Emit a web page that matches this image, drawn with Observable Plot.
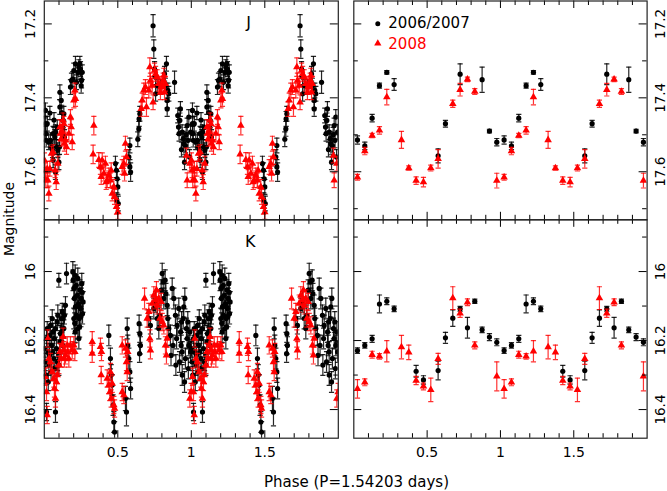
<!DOCTYPE html>
<html><head><meta charset="utf-8">
<script src="https://cdn.jsdelivr.net/npm/d3@7"></script>
<script src="https://cdn.jsdelivr.net/npm/@observablehq/plot@0.6"></script>
<style>
body{margin:0;background:#fff;}
#chart{position:relative;width:667px;height:491px;font-family:"DejaVu Sans",sans-serif;color:#000;}
#chart svg{position:absolute;left:0;top:0;}
.lbl{position:absolute;white-space:nowrap;line-height:1;}
</style></head><body><div id="chart"></div>
<script>
// ---------- data: unbinned light curves, [phase, magnitude, error], phase in [0,1) ----------
const jBlack = [
[0.008,17.434,0.02],[0.008,17.470,0.02],[0.010,17.497,0.02],[0.013,17.515,0.018],[0.020,17.470,0.02],[0.030,17.520,0.02],[0.038,17.441,0.018],[0.042,17.515,0.02],[0.049,17.533,0.02],[0.056,17.542,0.02],[0.060,17.497,0.02],[0.060,17.569,0.02],[0.066,17.460,0.02],[0.072,17.506,0.02],[0.076,17.493,0.02],[0.076,17.601,0.02],[0.083,17.533,0.02],[0.088,17.480,0.02],[0.092,17.542,0.02],[0.099,17.574,0.02],[0.103,17.533,0.02],[0.106,17.425,0.02],[0.106,17.385,0.02],[0.115,17.407,0.02],[0.118,17.440,0.02],[0.126,17.479,0.02],[0.128,17.461,0.02],[0.133,17.443,0.02],[0.137,17.506,0.02],
[0.178,17.371,0.02],[0.185,17.353,0.02],[0.194,17.349,0.02],[0.201,17.326,0.02],[0.212,17.308,0.02],[0.219,17.358,0.02],[0.228,17.331,0.02],[0.235,17.317,0.02],[0.242,17.308,0.02],[0.246,17.322,0.02],[0.251,17.367,0.02],[0.253,17.353,0.02],[0.258,17.331,0.02],
[0.484,17.578,0.02],[0.491,17.596,0.02],[0.496,17.619,0.02],[0.500,17.641,0.02],[0.493,17.677,0.02],[0.503,17.686,0.02],[0.575,17.560,0.02],[0.582,17.529,0.02],[0.582,17.587,0.02],[0.587,17.601,0.025],
[0.636,17.512,0.02],[0.643,17.484,0.02],[0.645,17.457,0.02],[0.650,17.443,0.02],[0.740,17.205,0.03],[0.745,17.268,0.025],[0.750,17.322,0.02],[0.757,17.344,0.02],[0.757,17.389,0.02],[0.768,17.367,0.02],[0.790,17.371,0.02],[0.818,17.335,0.02],[0.824,17.367,0.02],[0.831,17.308,0.02],[0.836,17.407,0.02],[0.836,17.430,0.02],[0.840,17.380,0.02],[0.847,17.389,0.02],[0.886,17.358,0.03],
[0.908,17.448,0.02],[0.913,17.479,0.02],[0.917,17.497,0.02],[0.922,17.461,0.02],[0.926,17.430,0.02],[0.933,17.540,0.02],[0.938,17.493,0.02],[0.945,17.511,0.02],[0.949,17.524,0.02],[0.954,17.574,0.02],[0.960,17.529,0.02],[0.965,17.500,0.02],[0.972,17.475,0.02],[0.978,17.515,0.02],[0.983,17.452,0.02],[0.988,17.560,0.02],[0.995,17.493,0.02]
];
const jRed = [
[0.001,17.569,0.02],[0.006,17.596,0.02],[0.010,17.623,0.02],[0.020,17.592,0.02],[0.024,17.623,0.02],[0.031,17.659,0.02],[0.038,17.592,0.02],[0.049,17.551,0.02],[0.060,17.547,0.02],[0.074,17.596,0.02],[0.081,17.628,0.02],[0.092,17.578,0.02],[0.106,17.479,0.02],[0.110,17.497,0.02],[0.115,17.511,0.02],[0.122,17.493,0.02],[0.128,17.461,0.02],[0.133,17.470,0.02],[0.137,17.524,0.02],[0.144,17.515,0.02],[0.151,17.533,0.02],[0.167,17.497,0.02],[0.178,17.452,0.02],[0.183,17.479,0.02],[0.190,17.520,0.02],[0.201,17.407,0.02],[0.208,17.380,0.02],[0.212,17.403,0.02],
[0.337,17.475,0.025],[0.332,17.553,0.025],[0.371,17.568,0.02],[0.382,17.587,0.02],[0.387,17.614,0.02],[0.394,17.569,0.02],[0.405,17.605,0.02],[0.416,17.578,0.02],[0.421,17.628,0.02],[0.428,17.623,0.02],[0.439,17.610,0.02],[0.450,17.623,0.02],[0.455,17.596,0.02],[0.462,17.659,0.02],[0.473,17.641,0.02],[0.478,17.668,0.02],[0.491,17.695,0.02],[0.500,17.709,0.02],[0.530,17.587,0.02],[0.541,17.578,0.02],[0.546,17.605,0.02],[0.552,17.524,0.02],[0.559,17.560,0.02],
[0.659,17.430,0.02],[0.666,17.407,0.02],[0.677,17.380,0.02],[0.688,17.371,0.02],[0.695,17.425,0.025],[0.711,17.380,0.02],[0.718,17.317,0.025],[0.722,17.353,0.02],[0.734,17.367,0.02],[0.740,17.412,0.02],[0.750,17.326,0.02],[0.757,17.335,0.02],[0.768,17.344,0.02],[0.779,17.362,0.02],[0.790,17.385,0.02],[0.795,17.371,0.02],[0.802,17.367,0.02],[0.809,17.353,0.02],[0.813,17.340,0.02],[0.818,17.385,0.02],[0.824,17.362,0.02],
[0.967,17.556,0.02],[0.972,17.623,0.02],[0.990,17.578,0.02]
];
const kBlack = [
[0.001,16.223,0.025],[0.006,16.262,0.025],[0.010,16.300,0.025],[0.015,16.194,0.025],[0.020,16.165,0.02],[0.024,16.233,0.025],[0.027,16.320,0.025],[0.031,16.271,0.03],[0.035,16.243,0.025],[0.038,16.185,0.025],[0.042,16.156,0.025],[0.046,16.291,0.025],[0.049,16.214,0.025],[0.054,16.136,0.025],[0.058,16.233,0.025],[0.060,16.175,0.025],[0.065,16.252,0.025],[0.069,16.194,0.025],[0.072,16.280,0.025],[0.076,16.165,0.025],[0.083,16.223,0.025],[0.088,16.146,0.025],[0.090,16.262,0.025],[0.092,16.127,0.03],[0.099,16.271,0.03],[0.106,16.204,0.025],[0.110,16.180,0.025],[0.115,16.136,0.025],[0.118,16.175,0.025],[0.122,16.117,0.025],[0.126,16.214,0.025],[0.128,16.136,0.025],[0.133,16.165,0.025],[0.137,16.127,0.025],[0.144,16.098,0.025],[0.099,16.025,0.02],[0.015,16.407,0.025],[0.076,16.407,0.03],[0.151,16.006,0.03],
[0.194,16.001,0.03],[0.196,16.025,0.03],[0.201,16.049,0.03],[0.205,16.078,0.03],[0.207,16.150,0.03],[0.210,16.011,0.03],[0.212,16.102,0.03],[0.217,16.040,0.03],[0.219,16.127,0.03],[0.222,16.100,0.03],[0.224,16.069,0.03],[0.228,16.020,0.03],[0.233,16.093,0.03],[0.237,16.136,0.03],[0.240,16.160,0.03],[0.242,16.054,0.03],[0.246,16.107,0.03],[0.249,16.130,0.03],[0.251,16.078,0.03],[0.255,16.035,0.03],[0.258,16.060,0.03],[0.260,16.122,0.03],[0.264,16.088,0.03],[0.201,16.136,0.03],[0.210,16.175,0.03],[0.228,16.165,0.03],[0.235,16.194,0.03],
[0.439,16.185,0.03],[0.450,16.252,0.03],[0.455,16.300,0.03],[0.462,16.329,0.03],[0.468,16.387,0.03],[0.473,16.436,0.03],[0.478,16.465,0.03],[0.552,16.368,0.035],[0.559,16.407,0.04],[0.564,16.165,0.03],[0.568,16.214,0.03],[0.575,16.252,0.03],[0.582,16.291,0.03],[0.587,16.339,0.03],
[0.645,16.151,0.025],[0.648,16.238,0.025],[0.650,16.180,0.025],[0.654,16.214,0.025],[0.711,16.136,0.025],[0.722,16.156,0.025],[0.745,16.107,0.03],[0.757,16.088,0.03],[0.768,16.136,0.03],[0.779,16.165,0.03],[0.786,16.127,0.03],[0.795,16.054,0.03],[0.802,16.006,0.03],[0.809,16.030,0.03],[0.813,16.078,0.03],[0.822,16.025,0.03],[0.827,16.064,0.03],[0.836,16.098,0.03],[0.840,16.136,0.03],[0.847,16.165,0.03],[0.858,16.185,0.03],
[0.862,16.243,0.03],[0.870,16.049,0.03],[0.876,16.214,0.03],[0.881,16.078,0.03],[0.892,16.127,0.03],[0.895,16.271,0.03],[0.900,16.194,0.03],[0.904,16.156,0.03],[0.915,16.107,0.03],[0.920,16.262,0.03],[0.927,16.175,0.03],[0.931,16.214,0.03],[0.934,16.146,0.03],[0.938,16.233,0.03],[0.938,16.300,0.03],[0.945,16.136,0.03],[0.949,16.102,0.03],[0.954,16.320,0.03],[0.956,16.078,0.03],[0.960,16.252,0.03],[0.967,16.165,0.03],[0.972,16.194,0.03],[0.976,16.146,0.03],[0.980,16.281,0.03],[0.983,16.214,0.03],[0.990,16.175,0.03],[0.995,16.233,0.03]
];
const kRed = [
[0.008,16.305,0.025],[0.015,16.349,0.025],[0.020,16.416,0.025],[0.024,16.194,0.025],[0.031,16.252,0.025],[0.042,16.262,0.025],[0.054,16.291,0.025],[0.065,16.310,0.025],[0.069,16.339,0.025],[0.076,16.368,0.025],[0.083,16.320,0.025],[0.088,16.300,0.025],[0.099,16.271,0.025],[0.106,16.233,0.025],[0.115,16.252,0.025],[0.122,16.214,0.025],[0.128,16.189,0.025],[0.133,16.228,0.025],[0.137,16.252,0.025],[0.144,16.243,0.025],[0.156,16.214,0.025],[0.160,16.233,0.025],[0.167,16.252,0.025],[0.178,16.214,0.025],[0.190,16.228,0.025],[0.201,16.214,0.025],[0.208,16.233,0.025],
[0.326,16.204,0.03],[0.326,16.238,0.025],[0.382,16.218,0.025],[0.387,16.300,0.025],[0.389,16.233,0.025],[0.428,16.310,0.025],[0.439,16.329,0.025],[0.446,16.349,0.025],[0.450,16.291,0.025],[0.455,16.368,0.025],[0.462,16.325,0.025],[0.473,16.387,0.025],[0.478,16.397,0.025],[0.530,16.214,0.025],[0.530,16.349,0.025],[0.541,16.358,0.025],[0.552,16.223,0.025],[0.559,16.262,0.025],[0.564,16.291,0.025],[0.568,16.233,0.025],
[0.682,16.078,0.03],[0.700,16.136,0.025],[0.711,16.117,0.025],[0.718,16.194,0.025],[0.722,16.228,0.025],[0.734,16.093,0.025],[0.745,16.069,0.025],[0.757,16.083,0.025],[0.763,16.054,0.025],[0.768,16.098,0.025],[0.779,16.078,0.025],[0.786,16.136,0.025],[0.795,16.088,0.025],[0.802,16.146,0.025],[0.813,16.156,0.025],[0.824,16.214,0.025],[0.831,16.243,0.025],[0.836,16.194,0.025],
[0.990,16.368,0.025],[0.999,16.349,0.025]
];
// ---------- data: binned light curves (bins of 0.05 in phase) ----------
const binPhase = [0.025,0.075,0.125,0.175,0.225,0.275,0.325,0.375,0.425,0.475,0.525,0.575,0.625,0.675,0.725,0.775,0.825,0.875,0.925,0.975];
const jBinBlack    = [17.514,17.530,17.455,17.367,17.331,17.364,null,null,null,null,null,17.557,17.470,null,17.336,null,null,17.351,17.490,17.520];
const jBinBlackErr = [0.011,0.010,0.010,0.007,0.005,0.016,null,null,null,null,null,0.019,0.009,null,0.028,null,null,0.034,0.005,0.010];
const jBinRed      = [17.615,17.544,17.502,17.488,17.398,null,17.514,17.590,17.624,17.628,17.590,17.565,null,17.416,17.378,17.350,17.383,null,null,17.624];
const jBinRedErr   = [0.008,0.010,0.006,0.010,0.021,null,0.023,0.006,0.010,0.013,0.008,0.025,null,0.010,0.017,0.006,0.008,null,null,0.020];
const kBinBlack    = [16.229,16.214,16.195,16.094,16.086,16.108,null,null,16.289,16.314,null,16.287,16.192,16.135,16.108,16.163,16.086,16.169,16.190,16.205];
const kBinBlackErr = [0.008,0.008,0.010,0.026,0.010,0.008,null,null,0.017,0.012,null,0.027,0.016,0.024,0.007,0.030,0.006,0.008,0.010,0.010];
const kBinRed      = [16.340,16.321,16.241,16.246,16.231,null,16.219,16.234,16.316,16.333,16.343,16.253,null,16.077,16.121,16.089,16.214,null,null,16.304];
const kBinRedErr   = [0.027,0.010,0.010,0.008,0.031,null,0.034,0.021,0.012,0.010,0.034,0.016,null,0.033,0.012,0.010,0.010,null,null,0.042];
// ---------- ticks & labels ----------
const xMajorTicks = [0.5,1,1.5];
const xMinorTicks = [0.1,0.2,0.3,0.4,0.6,0.7,0.8,0.9,1.1,1.2,1.3,1.4,1.6,1.7,1.8,1.9];
const jMajorTicks = [17.2,17.4,17.6];
const jMinorTicks = [17.3,17.5,17.7];
const kMajorTicks = [16,16.2,16.4];
const kMinorTicks = [15.9,16.1,16.3];
const seriesNames = ["2006/2007","2008"];
const bandNames = ["J","K"];
const xTitle = "Phase (P=1.54203 days)";
const yTitle = "Magnitude";

// ---------- layout ----------
const W = 667, H = 491;
const LX = [43.8,337.8], RX = [353.3,646.6], JY = [0.5,219.3], KY = [219.3,437.7];
const jDomain = [17.138,17.730], kDomain = [15.850,16.483];
const BLACK = "#000000", RED = "#ff0000";
const FONT = "DejaVu Sans, sans-serif";

const fold = rows => rows.flatMap(([p,m,e]) => [{p,m,e},{p:p+1,m,e}]);
const foldBins = (mags, errs) => binPhase.flatMap((p,i) => mags[i]==null ? [] : [{p,m:mags[i],e:errs[i]},{p:p+1,m:mags[i],e:errs[i]}]);

const cap = {draw(ctx,size){const w=Math.sqrt(size/Math.PI); ctx.moveTo(-w,0); ctx.lineTo(w,0);}};

function seriesMarks(rows, color, symbol, barOpacity, r){
  return [
    Plot.ruleX(rows,{x:"p",y1:d=>d.m-d.e,y2:d=>d.m+d.e,stroke:color,strokeOpacity:barOpacity,strokeWidth:1.2,clip:true}),
    Plot.dot(rows,{x:"p",y:d=>d.m-d.e,symbol:cap,r:2.6,stroke:color,strokeOpacity:barOpacity,fill:"none",strokeWidth:1.2,clip:true}),
    Plot.dot(rows,{x:"p",y:d=>d.m+d.e,symbol:cap,r:2.6,stroke:color,strokeOpacity:barOpacity,fill:"none",strokeWidth:1.2,clip:true}),
    Plot.dot(rows,{x:"p",y:"m",symbol,r,fill:color,stroke:"none",clip:true})
  ];
}

function panel({xr, yr, domain, black, red, yMajor, yMinor, side, bottom, band, legend}){
  const fw = xr[1]-xr[0], fh = yr[1]-yr[0];
  const marks = [
    ...seriesMarks(black, BLACK, "circle", 0.85, 2.6),
    ...seriesMarks(red, RED, "triangle", 0.8, 2.8),
    Plot.tickX(xMinorTicks,{x:d=>d,insetTop:fh-4.5,stroke:BLACK}),
    Plot.tickX(xMajorTicks,{x:d=>d,insetTop:fh-7.5,stroke:BLACK}),
    Plot.tickX(xMinorTicks,{x:d=>d,insetBottom:fh-4.5,stroke:BLACK}),
    Plot.tickX(xMajorTicks,{x:d=>d,insetBottom:fh-7.5,stroke:BLACK}),
    Plot.tickY(yMinor,{y:d=>d,insetRight:fw-4.5,stroke:BLACK}),
    Plot.tickY(yMajor,{y:d=>d,insetRight:fw-8,stroke:BLACK}),
    Plot.tickY(yMinor,{y:d=>d,insetLeft:fw-4.5,stroke:BLACK}),
    Plot.tickY(yMajor,{y:d=>d,insetLeft:fw-8,stroke:BLACK}),
    Plot.frame({stroke:"#222",strokeWidth:1.2}),
    Plot.text(yMajor,{y:d=>d,frameAnchor:side,dx:side==="left"?-13.5:13.5,rotate:-90,text:d=>String(d),fontSize:13.5,textAnchor:"middle",lineAnchor:"middle",fill:BLACK})
  ];
  if (bottom) marks.push(Plot.text(xMajorTicks,{x:d=>d,frameAnchor:"bottom",dy:14,text:d=>String(d),fontSize:14,lineAnchor:"middle",fill:BLACK}));
  if (band) marks.push(Plot.text([band.name],{frameAnchor:"top-left",dx:band.dx,dy:band.dy,text:d=>d,fontSize:16,textAnchor:"middle",lineAnchor:"middle",fill:BLACK}));
  if (legend) {
    marks.push(
      Plot.dot([0],{frameAnchor:"top-left",dx:24,dy:22.8,symbol:"circle",r:2.5,fill:BLACK}),
      Plot.text([seriesNames[0]],{frameAnchor:"top-left",dx:34.5,dy:22.5,text:d=>d,fontSize:15,textAnchor:"start",lineAnchor:"middle",fill:BLACK}),
      Plot.dot([0],{frameAnchor:"top-left",dx:24,dy:42.5,symbol:"triangle",r:2.7,fill:RED}),
      Plot.text([seriesNames[1]],{frameAnchor:"top-left",dx:34.5,dy:43,text:d=>d,fontSize:15,textAnchor:"start",lineAnchor:"middle",fill:RED})
    );
  }
  return Plot.plot({
    width:W, height:H,
    marginLeft:xr[0], marginRight:W-xr[1], marginTop:yr[0], marginBottom:H-yr[1],
    x:{domain:[0,2],axis:null},
    y:{domain,reverse:true,axis:null},
    style:{background:"transparent",fontFamily:FONT,overflow:"visible"},
    marks
  });
}

const chart = document.getElementById("chart");
chart.append(
  panel({xr:LX,yr:JY,domain:jDomain,black:fold(jBlack),red:fold(jRed),yMajor:jMajorTicks,yMinor:jMinorTicks,side:"left",bottom:false,band:{name:bandNames[0],dx:204.2,dy:22}}),
  panel({xr:RX,yr:JY,domain:jDomain,black:foldBins(jBinBlack,jBinBlackErr),red:foldBins(jBinRed,jBinRedErr),yMajor:jMajorTicks,yMinor:jMinorTicks,side:"right",bottom:false,legend:true}),
  panel({xr:LX,yr:KY,domain:kDomain,black:fold(kBlack),red:fold(kRed),yMajor:kMajorTicks,yMinor:kMinorTicks,side:"left",bottom:true,band:{name:bandNames[1],dx:206,dy:21.7}}),
  panel({xr:RX,yr:KY,domain:kDomain,black:foldBins(kBinBlack,kBinBlackErr),red:foldBins(kBinRed,kBinRedErr),yMajor:kMajorTicks,yMinor:kMinorTicks,side:"right",bottom:true})
);

function label(text, x, y, size, rotate){
  const d = document.createElement("div");
  d.className = "lbl"; d.textContent = text;
  d.style.fontSize = size+"px";
  d.style.left = x+"px"; d.style.top = y+"px";
  d.style.transform = `translate(-50%,-50%)${rotate?` rotate(${rotate}deg)`:""}`;
  chart.append(d);
}
label(yTitle, 8.5, 219, 14, -90);
label(xTitle, 356.5, 481.5, 15, 0);
</script></body></html>
